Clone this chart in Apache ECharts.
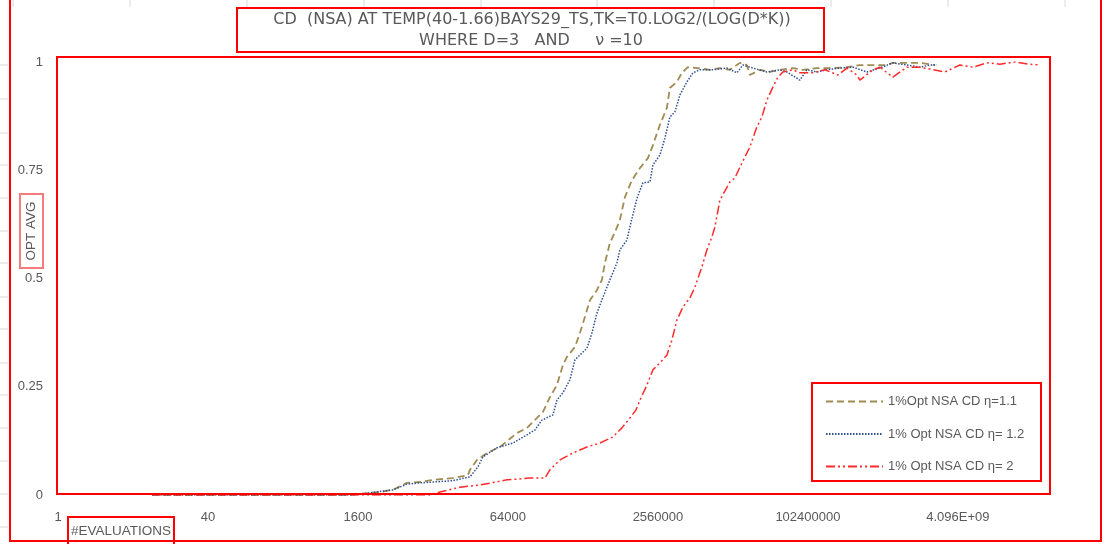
<!DOCTYPE html>
<html>
<head>
<meta charset="utf-8">
<script src="https://cdn.jsdelivr.net/npm/echarts@6/dist/echarts.min.js"></script>
<style>
html,body{margin:0;padding:0;background:#fff;}
#chart{width:1105px;height:544px;}
</style>
</head>
<body>
<div id="chart"></div>
<script>
// ---- data ----
var titleLines = ['CD  (NSA) AT TEMP(40-1.66)BAYS29_TS,TK=T0.LOG2/(LOG(D*K))', 'WHERE D=3   AND     \u03BD =10'];
var xAxisName = '#EVALUATIONS';
var yAxisName = 'OPT AVG';
var xTickLabels = ['1', '40', '1600', '64000', '2560000', '102400000', '4.096E+09'];
var seriesNames = ['1%Opt NSA CD \u03B7=1.1', '1% Opt NSA CD \u03B7= 1.2', '1% Opt NSA CD \u03B7= 2'];

var evalsA = [10.1, 112, 1315, 2148, 2748, 3784, 5337, 7345, 10120, 16550, 23920, 25120, 29850, 38180, 52600, 79800, 102100, 130600, 151400, 179800, 213400, 247300, 273000, 332400, 375800, 424800, 480800, 571000, 645500, 695000, 785700, 888900, 1004000, 1137000, 1350000, 1643000, 2000000, 2263000, 2687000, 3190000, 3436000, 4083000, 4615000, 5348000, 6677000, 9190000, 11750000, 15030000, 19220000, 22840000, 24590000, 31430000, 40180000, 51390000, 70790000, 90540000, 127700000, 189200000, 267200000, 367500000, 505800000, 714000000, 827700000, 1167000000, 1607000000, 2323000000];
var optA = [0, 0, 0, 0.005, 0.007, 0.012, 0.028, 0.030, 0.035, 0.039, 0.046, 0.058, 0.081, 0.097, 0.111, 0.143, 0.155, 0.178, 0.192, 0.226, 0.254, 0.300, 0.319, 0.342, 0.374, 0.411, 0.450, 0.473, 0.497, 0.536, 0.582, 0.607, 0.635, 0.688, 0.727, 0.755, 0.778, 0.808, 0.855, 0.894, 0.940, 0.954, 0.975, 0.988, 0.986, 0.982, 0.986, 0.982, 0.998, 0.993, 0.970, 0.982, 0.977, 0.982, 0.986, 0.982, 0.986, 0.986, 0.988, 0.993, 0.993, 0.993, 0.998, 0.998, 0.998, 0.993];

var evalsB = [10.1, 1315, 2148, 3784, 5337, 7345, 16550, 25120, 30600, 34590, 48820, 72290, 102100, 124200, 147600, 193600, 213400, 247300, 293800, 332400, 446400, 505000, 571000, 662000, 785700, 933000, 1004000, 1194000, 1285000, 1527000, 1770000, 2102000, 2263000, 2687000, 3039000, 3436000, 3888000, 4395000, 5223000, 6053000, 7190000, 9890000, 13960000, 17860000, 20700000, 26490000, 37330000, 51390000, 61070000, 84080000, 99800000, 127700000, 163300000, 224800000, 309500000, 436800000, 601000000, 827700000, 1167000000, 1607000000, 2056000000, 2442000000];
var optB = [0, 0, 0.005, 0.012, 0.025, 0.028, 0.033, 0.042, 0.065, 0.088, 0.109, 0.120, 0.139, 0.150, 0.173, 0.185, 0.219, 0.236, 0.266, 0.312, 0.339, 0.374, 0.420, 0.457, 0.497, 0.536, 0.566, 0.589, 0.619, 0.685, 0.721, 0.723, 0.762, 0.785, 0.824, 0.873, 0.885, 0.924, 0.954, 0.975, 0.982, 0.982, 0.986, 0.975, 0.993, 0.986, 0.977, 0.982, 0.977, 0.958, 0.982, 0.977, 0.982, 0.986, 0.988, 0.977, 0.986, 0.998, 0.993, 0.988, 0.993, 0.993];

var evalsC = [10.1, 7345, 9397, 12020, 19650, 32140, 62370, 109900, 158900, 179800, 229700, 316300, 446400, 615000, 845700, 1056000, 1285000, 1489000, 1643000, 1954000, 2263000, 2687000, 3190000, 3610000, 4083000, 4732000, 5623000, 6353000, 7551000, 8535000, 9660000, 10400000, 11750000, 15030000, 16980000, 19220000, 24590000, 29190000, 33030000, 37330000, 43250000, 48940000, 55340000, 70790000, 84080000, 115700000, 155500000, 213800000, 267200000, 341500000, 367500000, 505800000, 601000000, 827700000, 1167000000, 1607000000, 2972000000, 4296000000, 5916000000, 8356000000, 11510000000, 16630000000, 22900000000, 30760000000];
var optC = [0, 0, 0, 0.007, 0.018, 0.023, 0.035, 0.039, 0.039, 0.058, 0.081, 0.097, 0.111, 0.120, 0.134, 0.155, 0.178, 0.196, 0.219, 0.254, 0.289, 0.305, 0.323, 0.358, 0.404, 0.434, 0.455, 0.480, 0.527, 0.566, 0.596, 0.619, 0.681, 0.723, 0.732, 0.757, 0.804, 0.850, 0.873, 0.912, 0.942, 0.965, 0.977, 0.982, 0.975, 0.975, 0.982, 0.970, 0.986, 0.970, 0.958, 0.982, 0.988, 0.965, 0.988, 0.988, 0.977, 0.993, 0.988, 0.998, 0.995, 1.0, 0.995, 0.993];

var xMin = 1, xMax = 3.85e10, yMin = 0, yMax = 1, yStep = 0.25;

// ---- build ----
function zip(xs, ys) {
  var out = [];
  for (var i = 0; i < Math.min(xs.length, ys.length); i++) out.push([xs[i], ys[i]]);
  return out;
}
var TXT = '#595959';
var FONT = 'Liberation Sans';
var RED = '#ff0000';

var chart = echarts.init(document.getElementById('chart'), null, {renderer: 'canvas'});

var gfx = [];
// faint spreadsheet cell borders (background)
[13, 130, 247, 364, 481, 597, 714, 831, 948, 1065].forEach(function (gx) {
  gfx.push({type: 'line', z: 0, shape: {x1: gx, y1: 0, x2: gx, y2: 7}, style: {stroke: '#d9d9d9', lineWidth: 1}});
});
[65, 99, 133, 165, 198, 231, 263, 297, 329, 363, 395, 428, 461, 494, 527].forEach(function (gy) {
  gfx.push({type: 'line', z: 0, shape: {x1: 0, y1: gy, x2: 8, y2: gy}, style: {stroke: '#d9d9d9', lineWidth: 1}});
});
// annotation boxes
function box(x, y, w, h, c) {
  gfx.push({type: 'rect', z: 100, shape: {x: x, y: y, width: w, height: h}, style: {fill: 'none', stroke: c || RED, lineWidth: 2}});
}
box(10, -5, 1091, 546);
box(237, 8, 587, 44);
box(57, 57, 993, 437);
box(812, 383, 229, 98);
box(68, 517, 106, 30);
box(20, 194, 23, 74, '#f47c7c');
// title
gfx.push({type: 'text', z: 50, x: 532, y: 20, style: {text: titleLines[0], fill: TXT, font: '16px "DejaVu Sans"', textAlign: 'center', textVerticalAlign: 'middle'}});
gfx.push({type: 'text', z: 50, x: 531, y: 41, style: {text: titleLines[1], fill: TXT, font: '16px "DejaVu Sans"', textAlign: 'center', textVerticalAlign: 'middle'}});
// axis names
gfx.push({type: 'text', z: 50, x: 121, y: 531, style: {text: xAxisName, fill: TXT, font: '13.5px "Liberation Sans"', textAlign: 'center', textVerticalAlign: 'middle'}});
gfx.push({type: 'text', z: 50, x: 31.5, y: 231, rotation: Math.PI / 2, style: {text: yAxisName, fill: TXT, font: '13.5px "Liberation Sans"', textAlign: 'center', textVerticalAlign: 'middle'}});

var option = {
  animation: false,
  backgroundColor: '#fff',
  grid: {left: 58, right: 56, top: 62, bottom: 49, containLabel: false},
  legend: {
    orient: 'vertical', left: 820, top: 390, padding: 5,
    itemWidth: 57, itemHeight: 14, itemGap: 19.5,
    itemStyle: {opacity: 0, borderWidth: 0},
    textStyle: {color: TXT, fontSize: 13, fontFamily: FONT},
    data: seriesNames
  },
  xAxis: {
    type: 'log', logBase: 40, min: xMin, max: xMax,
    axisLine: {show: false}, axisTick: {show: false}, splitLine: {show: false},
    axisLabel: {
      color: TXT, fontSize: 13, fontFamily: FONT, margin: 16, showMaxLabel: false,
      formatter: function (v) {
        var k = Math.round(Math.log(v) / Math.log(40));
        if (k >= 0 && k < xTickLabels.length && Math.abs(Math.pow(40, k) - v) / v < 1e-6) return xTickLabels[k];
        return '';
      }
    }
  },
  yAxis: {
    type: 'value', min: yMin, max: yMax, interval: yStep,
    axisLine: {show: false}, axisTick: {show: false}, splitLine: {show: false},
    axisLabel: {color: TXT, fontSize: 13, fontFamily: FONT, margin: 15}
  },
  series: [
    {name: seriesNames[0], type: 'line', symbol: 'none', data: zip(evalsA, optA),
     lineStyle: {color: '#a08c52', width: 1.8, type: [7, 4]}, itemStyle: {color: '#a08c52'}},
    {name: seriesNames[1], type: 'line', symbol: 'none', data: zip(evalsB, optB),
     lineStyle: {color: '#2f4f93', width: 1.5, type: [1.5, 1.5]}, itemStyle: {color: '#2f4f93'}},
    {name: seriesNames[2], type: 'line', symbol: 'none', data: zip(evalsC, optC),
     lineStyle: {color: '#ff2a2a', width: 1.5, type: [9, 3, 2, 3, 2, 3]}, itemStyle: {color: '#ff2a2a'}}
  ],
  graphic: gfx
};
chart.setOption(option);
</script>
</body>
</html>
